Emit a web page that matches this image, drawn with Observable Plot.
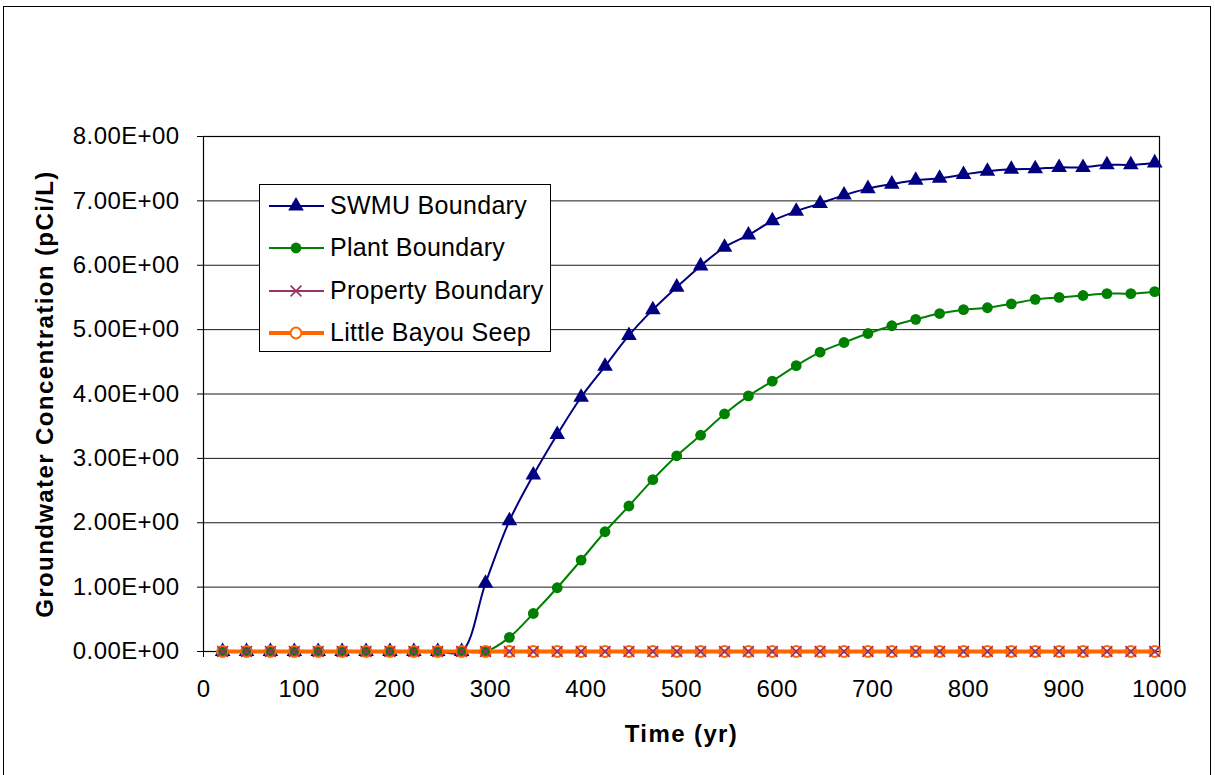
<!DOCTYPE html>
<html>
<head>
<meta charset="utf-8">
<script src="https://cdn.jsdelivr.net/npm/d3@7"></script>
<script src="https://cdn.jsdelivr.net/npm/@observablehq/plot@0.6"></script>
<style>
  html, body { margin: 0; padding: 0; background: #fff; }
  #wrap { position: relative; width: 1215px; height: 775px; overflow: hidden; background: #fff;
          font-family: "Liberation Sans", Arial, sans-serif; }
  #outer { position: absolute; left: 3px; top: 6px; width: 1208px; height: 800px;
           border: 1.5px solid #000; box-sizing: border-box; }
  #chart { position: absolute; left: 0; top: 0; }
  #legend { position: absolute; left: 259px; top: 184px; width: 292px; height: 168px;
            box-sizing: border-box; border: 1px solid #000; background: #fff; }
  .entry { position: absolute; left: 0; height: 40px; width: 290px; }
  .entry svg { position: absolute; left: 0; top: 0; }
  .entry span { position: absolute; left: 70px; top: 50%; transform: translateY(-52%);
                font-size: 25px; line-height: 1; color: #000; white-space: nowrap; letter-spacing: 0.3px; }
</style>
</head>
<body>
<div id="wrap">
  <div id="outer"></div>
  <div id="chart"></div>
  <div id="legend"></div>
</div>
<script>
// ---- data ----
const time = [20, 45, 70, 95, 120, 145, 170, 195, 220, 245,
              270, 295, 320, 345, 370, 395, 420, 445, 470, 495,
              520, 545, 570, 595, 620, 645, 670, 695, 720, 745,
              770, 795, 820, 845, 870, 895, 920, 945, 970, 995];

const swmuBoundary = [0, 0, 0, 0, 0, 0, 0, 0, 0, 0,
                      0, 1.06, 2.03, 2.74, 3.37, 3.95, 4.43, 4.91, 5.31, 5.66,
                      5.99, 6.28, 6.47, 6.69, 6.84, 6.96, 7.09, 7.19, 7.26, 7.32,
                      7.35, 7.41, 7.46, 7.49, 7.50, 7.52, 7.52, 7.56, 7.56, 7.59];

const plantBoundary = [0, 0, 0, 0, 0, 0, 0, 0, 0, 0,
                       0, 0, 0.22, 0.59, 0.99, 1.42, 1.86, 2.26, 2.67, 3.04,
                       3.36, 3.69, 3.97, 4.20, 4.44, 4.65, 4.80, 4.94, 5.06, 5.16,
                       5.25, 5.31, 5.34, 5.40, 5.47, 5.50, 5.53, 5.56, 5.56, 5.59];

const propertyBoundary = [0, 0, 0, 0, 0, 0, 0, 0, 0, 0,
                          0, 0, 0, 0, 0, 0, 0, 0, 0, 0,
                          0, 0, 0, 0, 0, 0, 0, 0, 0, 0,
                          0, 0, 0, 0, 0, 0, 0, 0, 0, 0];

const littleBayouSeep = [0, 0, 0, 0, 0, 0, 0, 0, 0, 0,
                         0, 0, 0, 0, 0, 0, 0, 0, 0, 0,
                         0, 0, 0, 0, 0, 0, 0, 0, 0, 0,
                         0, 0, 0, 0, 0, 0, 0, 0, 0, 0];

const seriesNames = ["SWMU Boundary", "Plant Boundary", "Property Boundary", "Little Bayou Seep"];
const xTicks = [0, 100, 200, 300, 400, 500, 600, 700, 800, 900, 1000];
const yTicks = [0, 1, 2, 3, 4, 5, 6, 7, 8];
const xTitle = "Time (yr)";
const yTitle = "Groundwater Concentration (pCi/L)";

// ---- styles ----
const styles = [
  {key: "swmu", color: "#000080", width: 2, symbol: "triangle", r: 5.8, fill: "#000080", stroke: "none"},
  {key: "plant", color: "#008000", width: 2, symbol: "circle", r: 5.4, fill: "#008000", stroke: "none"},
  {key: "prop", color: "#993366", width: 1.5, symbol: "times", r: 5, fill: "none", stroke: "#993366"},
  {key: "seep", color: "#FF6600", width: 4, symbol: "circle", r: 5.4, fill: "none", stroke: "#FF6600"}
];

const rows = time.map((t, i) => ({
  t,
  swmu: swmuBoundary[i],
  plant: plantBoundary[i],
  prop: propertyBoundary[i],
  seep: littleBayouSeep[i]
}));

const fmtE = d => {
  const [m, e] = d.toExponential(2).split("e");
  const n = +e;
  return m + "E" + (n < 0 ? "-" : "+") + String(Math.abs(n)).padStart(2, "0");
};

const lineMarks = styles.map(s =>
  Plot.line(rows, {x: "t", y: s.key, stroke: s.color, strokeWidth: s.width,
    curve: (s.key === "swmu" || s.key === "plant") ? "catmull-rom" : "linear"}));

const dotMarks = styles.map(s =>
  Plot.dot(rows, {x: "t", y: s.key, symbol: s.symbol, r: s.r, fill: s.fill,
    stroke: s.stroke, strokeWidth: s.key === "seep" ? 2 : 1.6}));

const chart = Plot.plot({
  width: 1215,
  height: 775,
  marginLeft: 203,
  marginRight: 56,
  marginTop: 136,
  marginBottom: 124,
  style: {fontFamily: "'Liberation Sans', Arial, sans-serif", fontSize: "24px", color: "#000",
          background: "transparent", overflow: "visible"},
  x: {domain: [0, 1000]},
  y: {domain: [0, 8]},
  marks: [
    Plot.ruleY(yTicks.filter(v => v > 0), {stroke: "#1a1a1a", strokeWidth: 1}),
    Plot.frame({stroke: "#000", strokeWidth: 1.2}),
    Plot.axisX({ticks: xTicks, tickFormat: d => String(d), tickSize: 6, tickPadding: 22,
                label: null, fontSize: 24, stroke: "#000"}),
    Plot.axisY({ticks: yTicks, tickFormat: fmtE, tickSize: 6, tickPadding: 18,
                label: null, fontSize: 24, stroke: "#000"}),
    ...lineMarks,
    dotMarks[0], dotMarks[1], dotMarks[3], dotMarks[2],
    Plot.text([xTitle], {frameAnchor: "bottom", dy: 83, fontWeight: "bold", fontSize: 24,
                         lineAnchor: "middle", textAnchor: "middle", fill: "#000"}),
    Plot.text([yTitle], {frameAnchor: "left", dx: -158, rotate: -90, fontWeight: "bold",
                         fontSize: 24, lineAnchor: "middle", textAnchor: "middle", fill: "#000"})
  ]
});
document.getElementById("chart").appendChild(chart);

// slightly wider text, as in the reference
d3.select(chart).selectAll("text").each(function() {
  const t = this.textContent;
  this.style.letterSpacing = (t === xTitle || t === yTitle) ? "1.4px" : "0.4px";
});

// ---- legend (HTML, built from the series names and styles) ----
const legend = document.getElementById("legend");
const symbolType = {triangle: d3.symbolTriangle, circle: d3.symbolCircle, times: d3.symbolTimes};
seriesNames.forEach((name, i) => {
  const s = styles[i];
  const div = document.createElement("div");
  div.className = "entry";
  div.style.top = (1 + i * 42.3) + "px";
  const path = d3.symbol(symbolType[s.symbol], Math.PI * s.r * s.r)();
  div.innerHTML =
    `<svg width="70" height="40">
       <line x1="9" x2="64" y1="20" y2="20" stroke="${s.color}" stroke-width="${s.key === "seep" ? 4 : 2}"/>
       <path d="${path}" transform="translate(36,20)" fill="${s.key === "seep" ? "#fff" : s.fill}"
             stroke="${s.stroke}" stroke-width="${s.key === "seep" ? 2 : 1.6}"/>
     </svg><span>${name}</span>`;
  legend.appendChild(div);
});
</script>
</body>
</html>
